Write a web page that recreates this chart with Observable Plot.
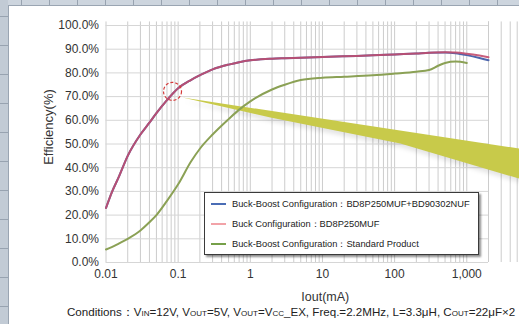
<!DOCTYPE html>
<html>
<head>
<meta charset="utf-8">
<script src="https://cdn.jsdelivr.net/npm/d3@7"></script>
<script src="https://cdn.jsdelivr.net/npm/@observablehq/plot@0.6"></script>
<style>
  html, body { margin: 0; padding: 0; }
  #frame {
    position: relative; width: 519px; height: 324px; overflow: hidden;
    background: #c6cfd9;
    font-family: "Liberation Sans", Arial, sans-serif;
  }
  #topstrip {
    position: absolute; left: 0; top: 0; width: 519px; height: 5px;
    background: repeating-linear-gradient(90deg, #cdd5de 0px, #cdd5de 27px, #98a3b0 27px, #98a3b0 28px);
    background-position: -6px 0;
  }
  #leftstrip {
    position: absolute; left: 0; top: 0; width: 8px; height: 324px;
    background: repeating-linear-gradient(180deg, #c2cbd5 0px, #c2cbd5 28px, #98a3b0 28px, #98a3b0 29px);
    background-position: 0 -12px;
  }
  #panel {
    position: absolute; left: 8px; top: 5px; right: 0; bottom: 0; background: #ffffff;
    border-left: 1px solid #9aa5b2; border-top: 1px solid #9aa5b2;
  }
  #chart { position: absolute; left: 0; top: 0; }
  #legend {
    position: absolute; left: 204px; top: 192px; width: 273px; height: 61px;
    border: 1px solid #3a3a3a; background: #fff;
    box-shadow: 2px 2px 2px rgba(0,0,0,0.45);
    font-size: 9.3px; color: #222;
  }
  .row { position: absolute; left: 0; height: 12px; white-space: nowrap; }
  .sw { position: absolute; left: 6px; top: 5px; width: 15px; height: 2px; }
  .lt { position: absolute; left: 27px; top: 0; line-height: 12px; }
  #caption {
    position: absolute; left: 67px; top: 305px; white-space: nowrap;
    font-size: 11.6px; color: #222;
  }
  .s { font-size: 8px; }
  #chart svg .shadow path { filter: blur(2px); }
</style>
</head>
<body>
<div id="frame">
  <div id="topstrip"></div>
  <div id="leftstrip"></div>
  <div id="panel"></div>
  <div id="chart"></div>
  <div id="legend"></div>
  <div id="caption">Conditions：V<span class="s">IN</span>=12V, V<span class="s">OUT</span>=5V, V<span class="s">OUT</span>=V<span class="s">CC</span>_EX, Freq.=2.2MHz, L=3.3μH, C<span class="s">OUT</span>=22μF×2</div>
</div>
<script>
// ---- data (Iout in mA, efficiency in %) ----
const iout = [0.01, 0.012, 0.015, 0.02, 0.03, 0.04, 0.05, 0.07, 0.1, 0.15, 0.2, 0.3, 0.5, 0.7, 1, 2, 3, 5, 10, 20, 50, 100, 200, 300, 500, 700, 1000, 1500, 2000];
const effBuckBoostNew = [23, 29.5, 36, 45, 54, 59, 63, 68.5, 73.5, 77, 79, 81.5, 83.5, 84.5, 85.3, 86, 86.2, 86.4, 86.7, 87, 87.4, 87.8, 88.2, 88.5, 88.6, 88.3, 87.5, 86.3, 85.3];
const effBuck         = [23, 29.5, 36, 45, 54, 59, 63, 68.5, 73.5, 77, 79, 81.5, 83.5, 84.5, 85.3, 86, 86.2, 86.4, 86.7, 87, 87.4, 87.8, 88.2, 88.5, 88.7, 88.6, 88.1, 87.3, 86.6];
const ioutStd = [0.01, 0.012, 0.015, 0.02, 0.03, 0.04, 0.05, 0.07, 0.1, 0.15, 0.2, 0.3, 0.5, 0.7, 1, 2, 3, 5, 10, 20, 50, 100, 200, 300, 400, 500, 700, 1000];
const effStd  = [5.5, 6.5, 8, 10, 13.5, 17, 20, 26, 33, 42.5, 48, 54, 60.5, 64.5, 68, 73, 75, 77, 78, 78.4, 79, 79.7, 80.5, 81.2, 83, 84.2, 84.8, 84.2];

const seriesNames = [
  "Buck-Boost Configuration：BD8P250MUF+BD90302NUF",
  "Buck Configuration：BD8P250MUF",
  "Buck-Boost Configuration：Standard Product"
];
const xTicks = [0.01, 0.1, 1, 10, 100, 1000];
const xTickLabels = ["0.01", "0.1", "1", "10", "100", "1,000"];
const yTicks = [0, 10, 20, 30, 40, 50, 60, 70, 80, 90, 100];

// callout annotation (data units)
const calloutX = [0.115, 1.9, 120, 5300, 5300];
const calloutY = [69.6, 61.2, 50.2, 35.4, 48.1];
const markerX = [0.0835];
const markerY = [72.2];

// ---- build ----
const xGrid = [];
for (let e = -2; e <= 3; e++) for (let m = 1; m <= 9; m++) xGrid.push(m * Math.pow(10, e));
xGrid.push(2000);

const rows = (xs, ys) => xs.map((x, i) => ({x, y: ys[i]}));
const blueData = rows(iout, effBuckBoostNew);
const redData = rows(iout, effBuck);
const greenData = rows(ioutStd, effStd);
const callout = rows(calloutX, calloutY);
const marker = rows(markerX, markerY);

const colors = {blue: "#4d66ad", red: "#c24d6e", green: "#8ba155"};
const legendColors = ["#4a6db5", "#f2a3a8", "#76a049"];

const chart = Plot.plot({
  width: 519, height: 324,
  marginLeft: 105.5, marginRight: 31, marginTop: 25, marginBottom: 62,
  style: {background: "transparent", fontFamily: "'Liberation Sans', Arial, sans-serif", fontSize: "12px", color: "#333", overflow: "visible"},
  x: {type: "log", domain: [0.01, 2000], ticks: xTicks, tickFormat: d => xTickLabels[xTicks.findIndex(t => Math.abs(t - d) / t < 1e-6)], tickSize: 0, tickPadding: 7, label: null},
  y: {domain: [0, 100], ticks: yTicks, tickFormat: d => d.toFixed(1) + "%", tickSize: 0, tickPadding: 7, label: null},
  marks: [
    Plot.ruleX(xGrid, {stroke: "#cccccc", strokeWidth: 1, y1: 0, y2: 101.5}),
    Plot.ruleY(yTicks, {stroke: "#d6d6d6", strokeWidth: 1}),
    Plot.line(callout, {x: "x", y: "y", fill: "#000", fillOpacity: 0.1, stroke: "none", dy: 4, dx: 1, clip: false, className: "shadow"}),
    Plot.line(callout, {x: "x", y: "y", fill: "#c8ca4a", stroke: "none", clip: false}),
    Plot.line(blueData, {x: "x", y: "y", stroke: colors.blue, strokeWidth: 2, curve: "monotone-x"}),
    Plot.line(redData, {x: "x", y: "y", stroke: colors.red, strokeWidth: 2, strokeOpacity: 0.9, curve: "monotone-x"}),
    Plot.line(greenData, {x: "x", y: "y", stroke: colors.green, strokeWidth: 2, curve: "monotone-x"}),
    Plot.dot(marker, {x: "x", y: "y", r: 9, stroke: "#d43a3a", strokeWidth: 1.2, strokeDasharray: "3,2", fill: "none"}),
    Plot.text(["Efficiency(%)"], {frameAnchor: "left", textAnchor: "middle", rotate: -90, dx: -57.5, dy: -17, fontSize: 13, fill: "#333"}),
    Plot.text(["Iout(mA)"], {frameAnchor: "bottom", textAnchor: "middle", dx: 28, dy: 38, fontSize: 12.5, fill: "#333"})
  ]
});
document.getElementById("chart").appendChild(chart);

// legend
const legend = document.getElementById("legend");
seriesNames.forEach((name, i) => {
  const r = document.createElement("div");
  r.className = "row";
  r.style.top = (5 + i * 20) + "px";
  r.innerHTML = `<div class="sw" style="background:${legendColors[i]}"></div><div class="lt"></div>`;
  r.querySelector(".lt").textContent = name;
  legend.appendChild(r);
});
</script>
</body>
</html>
